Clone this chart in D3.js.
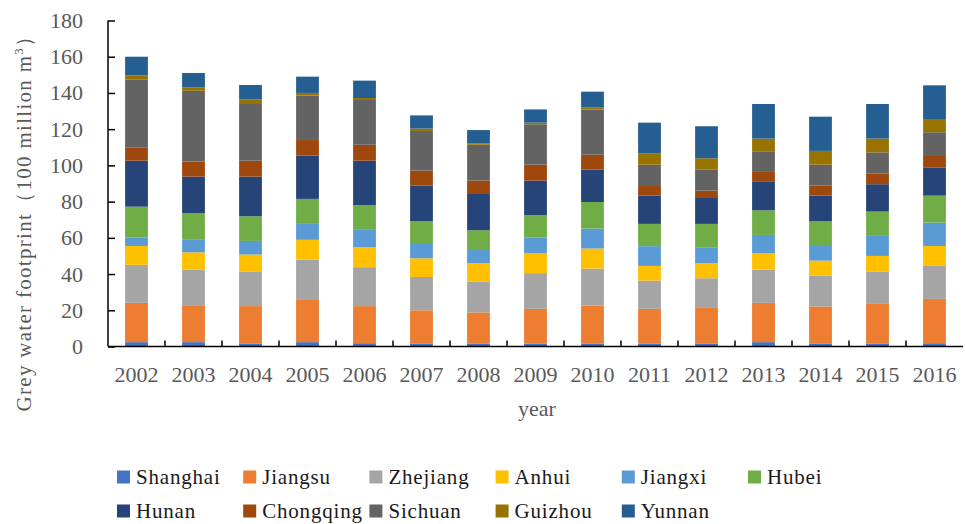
<!DOCTYPE html>
<html><head><meta charset="utf-8">
<script src="https://cdn.jsdelivr.net/npm/d3@7"></script>
<style>body{margin:0;background:#fff}svg{display:block}</style>
</head><body>
<svg id="c" width="965" height="524"></svg>
<script>
const years = ["2002","2003","2004","2005","2006","2007","2008","2009","2010","2011","2012","2013","2014","2015","2016"];
const seriesNames = ["Shanghai","Jiangsu","Zhejiang","Anhui","Jiangxi","Hubei","Hunan","Chongqing","Sichuan","Guizhou","Yunnan"];
const seriesColors = ["#4472C4","#ED7D31","#A5A5A5","#FFC000","#5B9BD5","#70AD47","#264478","#9E480E","#636363","#997300","#255E91"];
const Shanghai  = [2.4,2.4,1.5,2.4,1.8,1.5,1.5,1.5,1.5,1.5,1.5,2.4,1.5,1.5,1.8];
const Jiangsu   = [21.7,20.4,20.8,23.3,20.5,18.5,17.3,19.3,21.1,19.3,19.8,21.7,20.6,22.0,24.5];
const Zhejiang  = [21.0,19.7,18.9,22.3,21.5,18.4,16.9,19.7,20.4,15.6,16.4,18.4,17.1,17.7,18.2];
const Anhui     = [10.4,9.5,9.6,10.9,11.0,10.3,10.3,11.0,11.1,8.1,8.3,9.0,8.2,8.8,11.0];
const Jiangxi   = [4.6,6.9,7.5,8.8,9.6,7.9,7.3,8.6,11.0,10.9,8.8,10.1,8.1,11.1,12.9];
const Hubei     = [17.1,14.8,13.6,13.8,13.6,12.5,10.9,12.4,14.7,12.3,12.9,13.6,13.6,13.4,14.9];
const Hunan     = [25.4,20.1,21.9,23.9,24.6,19.7,20.0,19.1,17.9,15.6,14.3,15.7,14.2,15.1,15.6];
const Chongqing = [7.4,8.3,8.8,8.6,8.8,8.3,7.4,8.8,8.2,5.3,4.1,5.5,5.5,6.0,6.3];
const Sichuan   = [37.3,39.1,31.8,24.5,24.7,21.9,19.8,22.3,24.9,11.8,11.7,11.4,11.6,11.6,13.1];
const Guizhou   = [2.4,1.9,2.1,1.5,1.1,1.3,0.8,0.9,1.1,6.3,6.1,7.0,7.6,7.6,7.3];
const Yunnan    = [10.3,7.9,7.9,9.0,9.6,7.3,7.3,7.3,8.8,16.9,17.7,19.1,18.9,19.1,18.6];
const yTicks = [0,20,40,60,80,100,120,140,160,180];

const seriesData = [Shanghai,Jiangsu,Zhejiang,Anhui,Jiangxi,Hubei,Hunan,Chongqing,Sichuan,Guizhou,Yunnan];
const rows = years.map((y,i)=>{const r={year:y}; seriesNames.forEach((n,k)=>r[n]=seriesData[k][i]); return r;});
const stack = d3.stack().keys(seriesNames)(rows);

const svg = d3.select("#c");
const x = d3.scaleBand().domain(years).range([108,963]).paddingInner(0.6).paddingOuter(0.3);
const y = d3.scaleLinear().domain([0,180]).range([346.5,20.5]);
const serif = "'Liberation Serif','Times New Roman',serif";

// bars
svg.append("g").selectAll("g").data(stack).join("g")
  .attr("fill",(d,i)=>seriesColors[i])
  .selectAll("rect").data(d=>d).join("rect")
  .attr("x",d=>x(d.data.year)).attr("width",x.bandwidth())
  .attr("y",d=>y(d[1])).attr("height",d=>y(d[0])-y(d[1]));

// y axis
const yAxis = svg.append("g").attr("transform","translate(108,0)")
  .call(d3.axisLeft(y).tickValues(yTicks).tickSize(-7).tickPadding(25));
yAxis.select(".domain").attr("stroke","#000").attr("stroke-width",1.5).attr("d","M0,20.5V346.5");
yAxis.selectAll(".tick line").attr("stroke","#000").attr("stroke-width",1.5);
yAxis.selectAll(".tick text").attr("font-family",serif).attr("font-size",22).attr("fill","#595959");

// x axis
const step = x.step();
const xg = svg.append("g").attr("transform","translate(0,346.5)");
xg.append("line").attr("x1",108).attr("x2",963).attr("stroke","#000").attr("stroke-width",1.5);
xg.selectAll(".tk").data(years.slice(1)).join("line")
  .attr("x1",d=>x(d)-step*0.3).attr("x2",d=>x(d)-step*0.3)
  .attr("y1",0).attr("y2",-6).attr("stroke","#000").attr("stroke-width",1.5);
xg.selectAll("text").data(years).join("text")
  .attr("x",d=>x(d)+x.bandwidth()/2).attr("y",35.5)
  .attr("text-anchor","middle").attr("font-family",serif).attr("font-size",22).attr("fill","#595959")
  .text(d=>d);

// axis titles
svg.append("text").attr("x",537).attr("y",416).attr("text-anchor","middle")
  .attr("font-family",serif).attr("font-size",22).attr("fill","#595959").text("year");
const yt = svg.append("text").attr("transform","translate(31,218) rotate(-90)").attr("text-anchor","middle")
  .attr("font-family",serif).attr("font-size",21).attr("letter-spacing",1.3).attr("fill","#595959");
yt.append("tspan").text("Grey water footprint（100 million  m");
yt.append("tspan").attr("font-size",13).attr("dy",-8).text("3");
yt.append("tspan").attr("dy",8).text("）");

// legend
const lg = svg.append("g");
const items = lg.selectAll("g").data(seriesNames).join("g")
  .attr("transform",(d,i)=>`translate(${117+(i%6)*126.2},${i<6?477:511})`);
items.append("rect").attr("x",0).attr("y",-6.5).attr("width",13).attr("height",13)
  .attr("fill",(d,i)=>seriesColors[i]);
items.append("text").attr("x",19).attr("y",7).attr("font-family",serif).attr("font-size",21)
  .attr("letter-spacing",0.8).attr("fill","#1a1a1a").text(d=>d);
</script>
</body></html>
